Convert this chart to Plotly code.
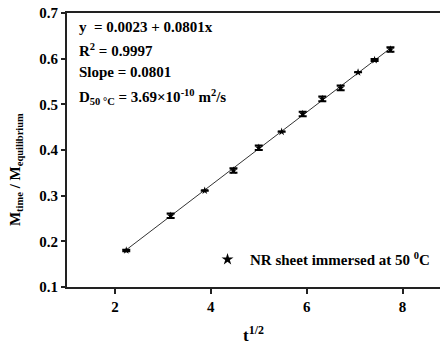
import plotly.graph_objects as go

t_sqrt = [2.236, 3.162, 3.873, 4.472, 5.000, 5.477, 5.916, 6.325, 6.708, 7.071, 7.416, 7.746]
m_ratio = [0.180, 0.256, 0.311, 0.355, 0.405, 0.440, 0.479, 0.512, 0.536, 0.570, 0.597, 0.620]
m_err = [0.0015, 0.005, 0.0, 0.005, 0.005, 0.0, 0.005, 0.005, 0.005, 0.0, 0.002, 0.005]
fit_intercept = 0.0023
fit_slope = 0.0801

FONT = "Liberation Serif"

fit_x = [min(t_sqrt), max(t_sqrt)]
fit_y = [fit_intercept + fit_slope * v for v in fit_x]

fig = go.Figure()
fig.add_trace(go.Scatter(x=fit_x, y=fit_y, mode="lines",
                         line=dict(color="#333333", width=1), showlegend=False))
fig.add_trace(go.Scatter(x=t_sqrt, y=m_ratio, mode="markers",
                         marker=dict(symbol="star", size=6, color="black"),
                         error_y=dict(type="data", array=m_err, color="black",
                                      thickness=2, width=4),
                         showlegend=False))
fig.add_trace(go.Scatter(x=[None], y=[None], mode="markers",
                         marker=dict(symbol="star", size=9, color="black"),
                         name="NR sheet immersed at 50 <sup>0</sup>C"))

annot = [
    ("y  = 0.0023 + 0.0801x", 0.670),
    ("R<sup>2</sup> = 0.9997", 0.620),
    ("Slope = 0.0801", 0.570),
    ("D<sub>50 °C</sub> = 3.69×10<sup>-10</sup> m<sup>2</sup>/s", 0.517),
]
for txt, yy in annot:
    fig.add_annotation(x=1.2, y=yy, xref="x", yref="y", text=txt, showarrow=False,
                       xanchor="left", yanchor="middle",
                       font=dict(family=FONT, size=15, color="black", weight="bold"))

fig.add_annotation(x=-0.137, y=0.43, xref="paper", yref="paper", textangle=-90,
                   text="M<sub>time</sub> / M<sub>equilibrium</sub>", showarrow=False,
                   xanchor="center", yanchor="middle",
                   font=dict(family=FONT, size=15, color="black", weight="bold"))

fig.update_layout(
    width=440, height=345,
    margin=dict(l=67, r=0, t=13, b=58, autoexpand=False),
    paper_bgcolor="white", plot_bgcolor="white",
    font=dict(family=FONT, color="black"),
    legend=dict(x=0.37, y=0.10, xanchor="left", yanchor="middle", itemwidth=35,
                bgcolor="rgba(0,0,0,0)",
                font=dict(family=FONT, size=15, color="black", weight="bold")),
)
fig.update_xaxes(range=[1, 8.78], tickvals=[2, 4, 6, 8], showgrid=False, zeroline=False,
                 showline=True, linecolor="#222222", linewidth=2, mirror=True,
                 ticks="outside", ticklen=5, tickwidth=2, tickcolor="#222222",
                 tickfont=dict(family=FONT, size=15, weight="bold"),
                 title=dict(text="t<sup>1/2</sup>", standoff=15,
                            font=dict(family=FONT, size=17, weight="bold")))
fig.update_yaxes(range=[0.1, 0.7], tickvals=[0.1, 0.2, 0.3, 0.4, 0.5, 0.6, 0.7],
                 tickformat=".1f", showgrid=False, zeroline=False,
                 showline=True, linecolor="#222222", linewidth=2, mirror=False,
                 ticks="outside", ticklen=4, tickwidth=2, tickcolor="#222222",
                 tickfont=dict(family=FONT, size=15, weight="bold"))

fig.write_html("out.html")
